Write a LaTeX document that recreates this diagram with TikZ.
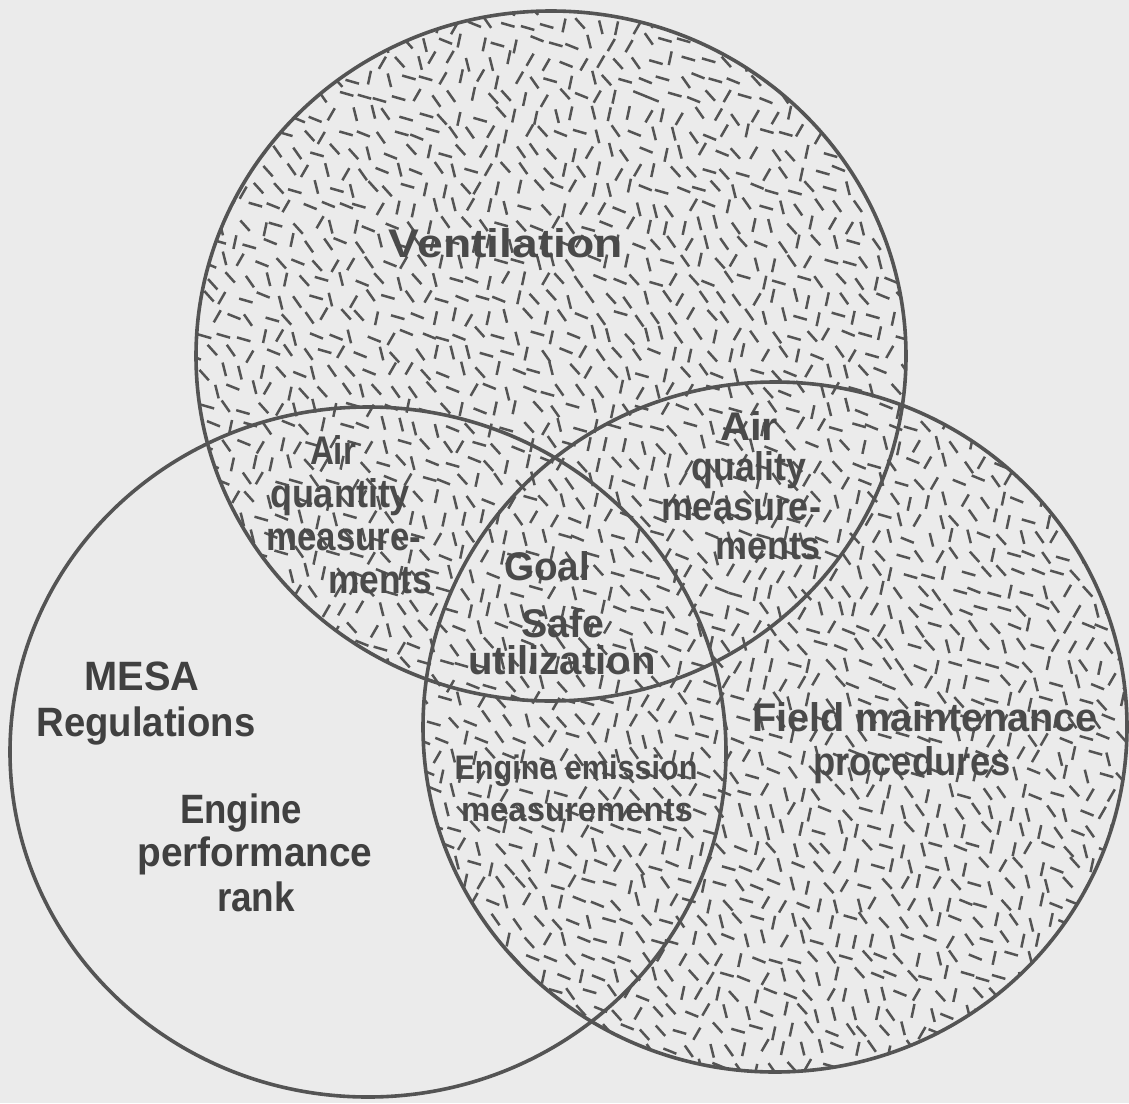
\documentclass[tikz,border=0pt]{standalone}
\usepackage{graphicx}
\usepackage{fontspec}
\setmainfont{Liberation Sans}
\definecolor{bg}{HTML}{EBEBEB}
\definecolor{ink}{HTML}{545454}
\definecolor{txt}{HTML}{404040}
\definecolor{ttxt}{HTML}{4A4A4A}
\newcommand\wfit[2]{\resizebox{#1pt}{\height}{#2}}
\begin{document}
\begin{tikzpicture}[x=1pt,y=-1pt,
  ring/.style={draw=ink,line width=3.6pt},
  speck/.style={draw=ink,line width=2.5pt},
  lbl/.style={text=txt,inner sep=0pt,anchor=base,font=\fontsize{41}{41}\selectfont\bfseries},
  tlbl/.style={lbl,text=ttxt,font=\fontsize{40}{40}\selectfont\bfseries},
  slbl/.style={lbl,text=ttxt,font=\fontsize{34}{34}\selectfont\bfseries}]
\fill[bg] (0,0) rectangle (1129,1103);
\useasboundingbox (0,0) rectangle (1129,1103);
% texture inside top and right circles
\pgfmathdeclarerandomlist{angs}{{16}{22}{48}{55}{-60}{-78}{-104}}
\pgfmathsetseed{7}
\begin{scope}
  \clip (551,356) ellipse [x radius=355, y radius=345]
        (775,727) ellipse [x radius=352, y radius=345];
  \foreach \i in {0,...,51}{
    \foreach \j in {0,...,58}{
      \pgfmathsetmacro\px{188+\i*18.3+rnd*8-4+mod(\j,2)*9}
      \pgfmathsetmacro\py{6+\j*18.3+rnd*8-4}
      \pgfmathrandomitem\a{angs}
      \draw[speck] (\px,\py) ++(\a:-7) -- ++(\a:14);
    }}
\end{scope}
% circles
\draw[ring] (551,356) ellipse [x radius=355, y radius=345];
\draw[ring] (368,752) ellipse [x radius=358, y radius=345];
\draw[ring] (775,727) ellipse [x radius=352, y radius=345];
% labels
\node[tlbl] (vent) at (506,257) {\wfit{234}{Ventilation}};
\node[tlbl] (aqnA) at (333,464) {\wfit{46}{Air}};
\node[tlbl] (aqnB) at (340,507) {\wfit{140}{quantity}};
\node[tlbl] (aqnC) at (344,550) {\wfit{155}{measure-}};
\node[tlbl] (aqnD) at (380,593) {\wfit{104}{ments}};
\node[tlbl] (aqlA) at (749,440) {\wfit{58}{Air}};
\node[tlbl] (aqlB) at (749,480) {\wfit{115}{quality}};
\node[tlbl] (aqlC) at (741,520) {\wfit{160}{measure-}};
\node[tlbl] (aqlD) at (768,559) {\wfit{106}{ments}};
\node[tlbl] (goal) at (547,580) {\wfit{86}{Goal}};
\node[tlbl] (safe) at (563,637) {\wfit{83}{Safe}};
\node[tlbl] (util) at (562,674) {\wfit{187}{utilization}};
\node[lbl] (mesa) at (142,690) {\wfit{115}{MESA}};
\node[lbl] (regs) at (146,736) {\wfit{219}{Regulations}};
\node[lbl] (eng) at (241,823) {\wfit{122}{Engine}};
\node[lbl] (perf) at (255,866) {\wfit{235}{performance}};
\node[lbl] (rank) at (256,911) {\wfit{78}{rank}};
\node[tlbl] (fmA) at (925,731) {\wfit{346}{Field maintenance}};
\node[tlbl] (fmB) at (912,775) {\wfit{198}{procedures}};
\node[slbl] (emA) at (576,779) {\wfit{243}{Engine emission}};
\node[slbl] (emB) at (577,821) {\wfit{232}{measurements}};
\end{tikzpicture}
\end{document}
